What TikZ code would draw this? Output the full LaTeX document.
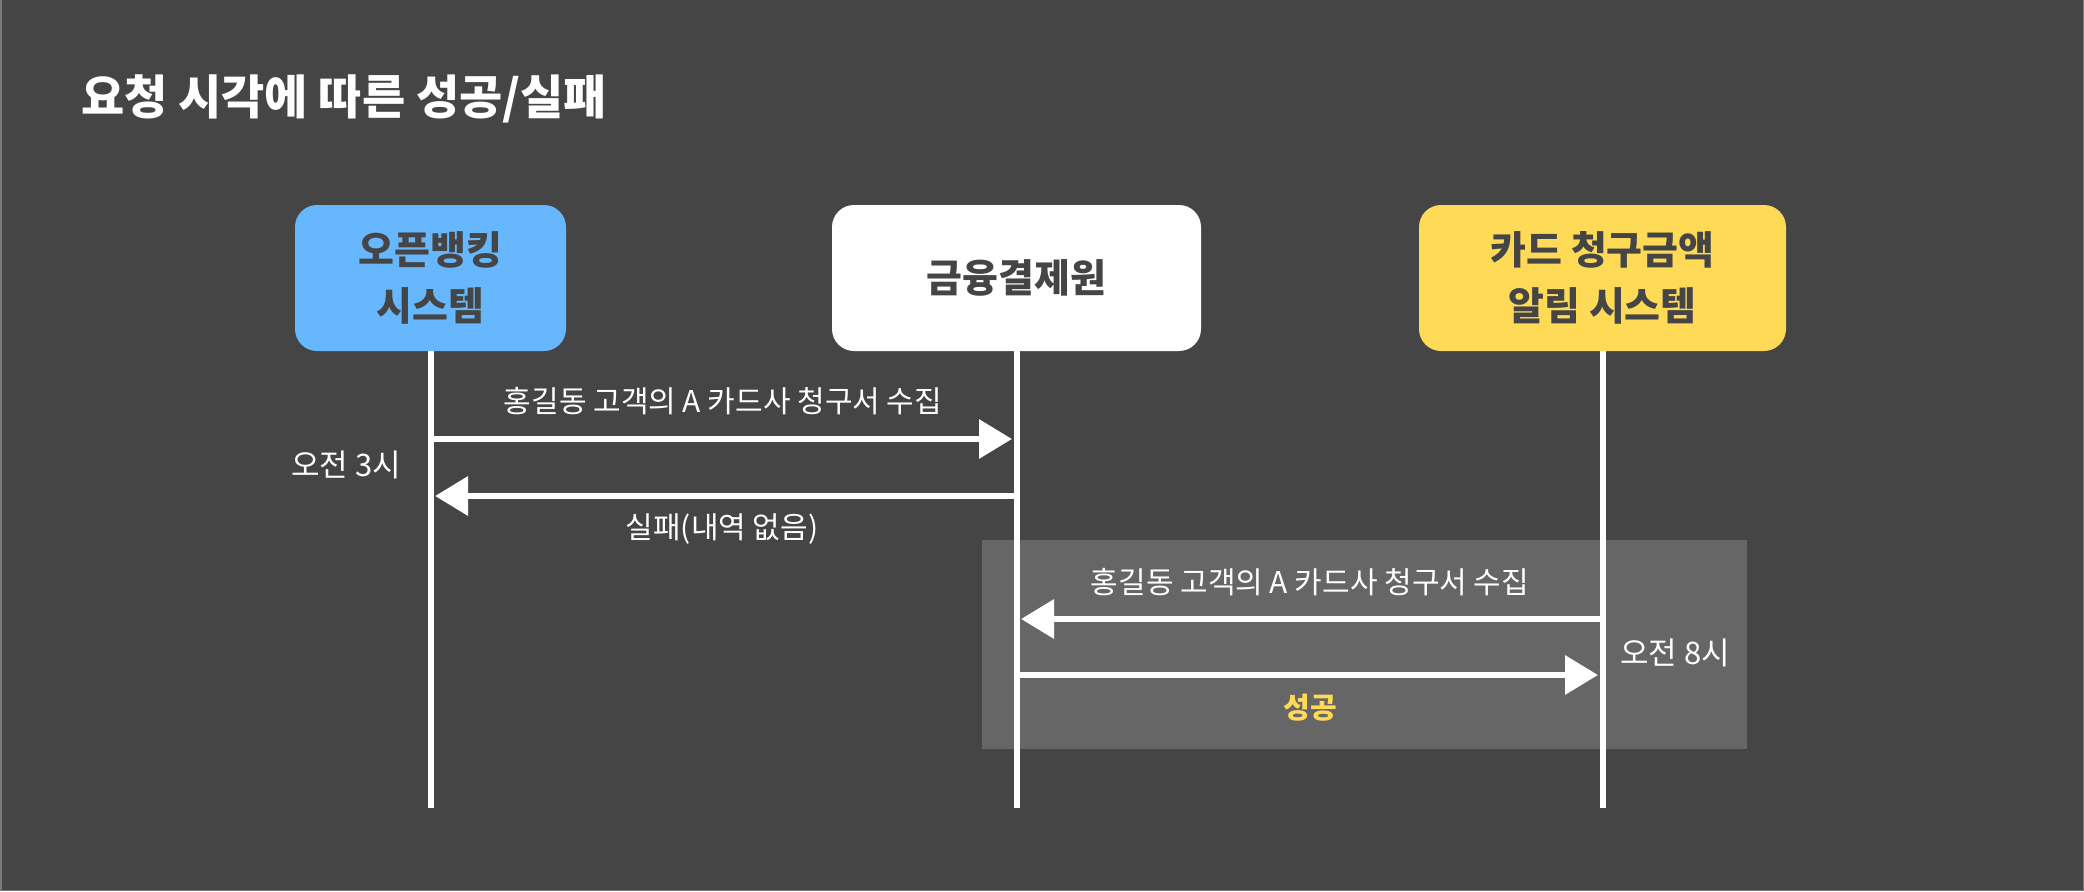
\documentclass[tikz,border=0pt]{standalone}
\usepackage{fontspec}
\setmainfont{Noto Sans CJK KR}
\usetikzlibrary{arrows.meta}
\definecolor{bg}{HTML}{454545}
\definecolor{edge}{HTML}{7A7A7A}
\definecolor{hl}{HTML}{666666}
\definecolor{cblue}{HTML}{67B7FF}
\definecolor{cyellow}{HTML}{FFDA56}
\definecolor{boxtext}{HTML}{454545}
\tikzset{
  actor/.style={rounded corners=22pt, minimum width=271pt, minimum height=146pt,
    align=center, inner sep=0pt, text=boxtext,
    font=\fontsize{39}{56}\selectfont\bfseries},
  life/.style={draw=white, line width=6pt},
  msg/.style={draw=white, line width=6.5pt, -{Triangle[length=33pt,width=38pt]}, fill=white},
  msglabel/.style={text=white, inner sep=0pt, font=\fontsize{30}{34}\selectfont},
  timelabel/.style={text=white, inner sep=0pt, font=\fontsize{31}{34}\selectfont},
}
\begin{document}
\begin{tikzpicture}[x=1pt,y=-1pt]
\fill[bg] (0,0) rectangle (2084,891);
\useasboundingbox (0,0) rectangle (2084,891);
\draw[edge, line width=1.5pt] (0.75,0) -- (0.75,890.25) -- (2083.25,890.25) -- (2083.25,0);

% title
\node[anchor=west, inner sep=0pt, text=white, font=\fontsize{47}{56}\selectfont\bfseries] (title) at (81,99) {요청 시각에 따른 성공/실패};

% highlight region
\fill[hl] (982,540) rectangle (1747,749);

% actors
\node[actor, fill=cblue] (ob) at (430.5,278) {오픈뱅킹\\시스템};
\node[actor, fill=white, minimum width=369pt] (kftc) at (1016.5,278) {금융결제원};
\node[actor, fill=cyellow, minimum width=367pt] (card) at (1602.5,278) {카드 청구금액\\알림 시스템};

% lifelines
\coordinate (obend) at (430.5,808);
\coordinate (kftcend) at (1016.5,808);
\coordinate (cardend) at (1602.5,808);
\draw[life] (ob.south) -- (obend);
\draw[life] (kftc.south) -- (kftcend);
\draw[life] (card.south) -- (cardend);

% message 1
\coordinate (m1s) at (433.5,439);
\coordinate (m1e) at (1012,439);
\draw[msg] (m1s) -- (m1e);
\node[msglabel] (l1) at (723,401) {홍길동 고객의 A 카드사 청구서 수집};
\node[timelabel, anchor=east] (t3) at (401,465) {오전 3시};

% message 2
\coordinate (m2s) at (1013.5,496);
\coordinate (m2e) at (435,496);
\draw[msg] (m2s) -- (m2e);
\node[msglabel] (l2) at (722,529) {실패(내역 없음)};

% message 3
\coordinate (m3s) at (1599.5,619);
\coordinate (m3e) at (1021,619);
\draw[msg] (m3s) -- (m3e);
\node[msglabel] (l3) at (1310,582) {홍길동 고객의 A 카드사 청구서 수집};
\node[timelabel, anchor=west] (t8) at (1620,653) {오전 8시};

% message 4
\coordinate (m4s) at (1019.5,675);
\coordinate (m4e) at (1598,675);
\draw[msg] (m4s) -- (m4e);
\node[inner sep=0pt, text=cyellow, font=\fontsize{29}{33}\selectfont\bfseries] (l4) at (1310,708) {성공};
\end{tikzpicture}
\end{document}
